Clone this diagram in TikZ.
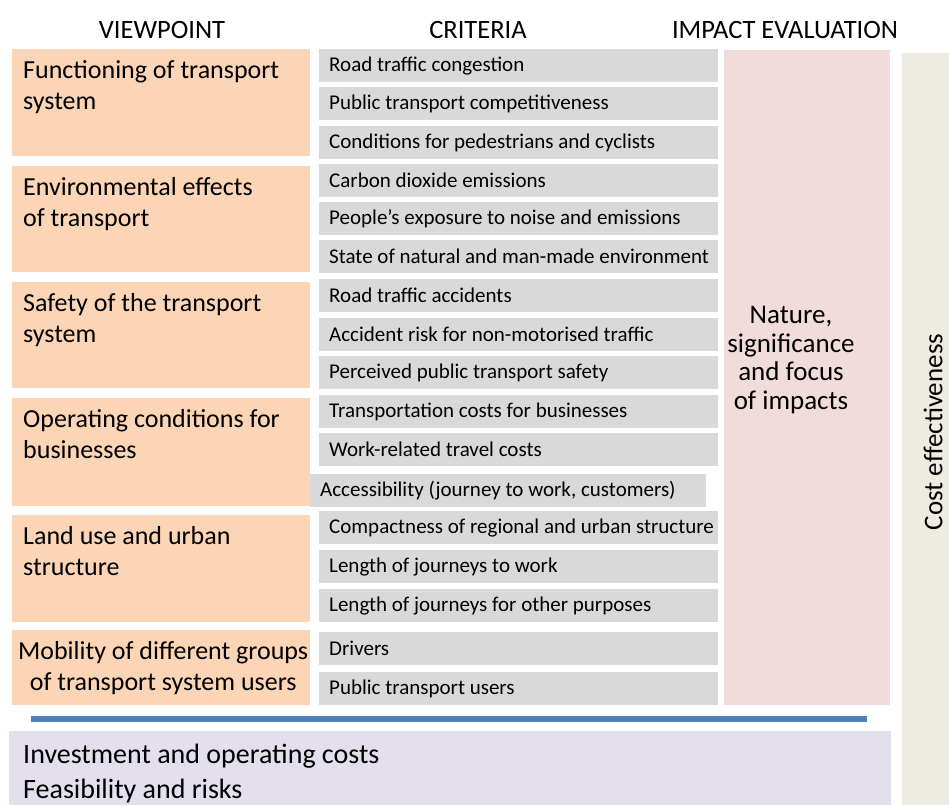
\documentclass[tikz,border=0pt]{standalone}
\usepackage{fontspec}
\setmainfont{Carlito}

\definecolor{viewfill}{HTML}{FBD5B5}
\definecolor{critfill}{HTML}{D9D9D9}
\definecolor{impactfill}{HTML}{F2DCDB}
\definecolor{costfill}{HTML}{EEECE1}
\definecolor{feasfill}{HTML}{E4DFEC}
\definecolor{barblue}{HTML}{4F81BD}

\begin{document}
\begin{tikzpicture}[x=1pt,y=-1pt,
		head/.style={font=\fontsize{26.5}{30}\selectfont},
		viewbox/.style={fill=viewfill,anchor=north west,minimum width=298pt,inner sep=0pt},
		viewtext/.style={anchor=north west,align=left,inner sep=0pt,font=\fontsize{26}{31}\selectfont},
		critbox/.style={fill=critfill,anchor=north west,minimum height=33pt,inner xsep=10pt,inner ysep=0pt,font=\fontsize{21}{24}\selectfont},
		bigtext/.style={font=\fontsize{27}{28.5}\selectfont}]
		\useasboundingbox (0,0) rectangle (949,805);

		% column headings
		\node[head] (hview) at (162,30) {VIEWPOINT};
		\node[head] (hcrit) at (478,30) {CRITERIA};
		\node[head] (himpact) at (785,30) {IMPACT EVALUATION};

		% viewpoints
		\node[viewbox,minimum height=107pt] (v1) at (12,49) {};
		\node[viewbox,minimum height=106pt] (v2) at (12,166) {};
		\node[viewbox,minimum height=106pt] (v3) at (12,282) {};
		\node[viewbox,minimum height=108pt] (v4) at (12,398) {};
		\node[viewbox,minimum height=107pt] (v5) at (12,515) {};
		\node[viewbox,minimum height=75pt] (v6) at (12,630) {};
		\node[viewtext,xshift=11pt,yshift=-11pt] (vt1) at (v1.north west) {Functioning of transport\\system};
		\node[viewtext,xshift=11pt,yshift=-11pt] (vt2) at (v2.north west) {Environmental effects\\of transport};
		\node[viewtext,xshift=11pt,yshift=-11pt] (vt3) at (v3.north west) {Safety of the transport\\system};
		\node[viewtext,xshift=11pt,yshift=-11pt] (vt4) at (v4.north west) {Operating conditions for\\businesses};
		\node[viewtext,xshift=11pt,yshift=-11pt] (vt5) at (v5.north west) {Land use and urban\\structure};
		\node[viewtext,anchor=center,align=center] (vt6) at ([xshift=2pt]v6.center) {Mobility of different groups\\of transport system users};

		% criteria
		\foreach \i/\y/\t in {1/49/Road traffic congestion,
				2/87/Public transport competitiveness,
				3/126/Conditions for pedestrians and cyclists,
				4/164/Carbon dioxide emissions,
				5/202/People’s exposure to noise and emissions,
				6/240/State of natural and man-made environment,
				7/279/Road traffic accidents,
				8/318/Accident risk for non-motorised traffic,
				9/356/Perceived public transport safety,
				10/395/Transportation costs for businesses,
				11/433/Work-related travel costs,
				13/511/Compactness of regional and urban structure,
				14/550/Length of journeys to work,
				15/589/Length of journeys for other purposes,
				16/632/Drivers,
				17/672/Public transport users}
			\node[critbox] (c\i) at (319,\y) {\makebox[379pt][l]{\t}};
		\node[critbox] (c12) at (310,474) {\makebox[376pt][l]{Accessibility (journey to work, customers)}};

		% impact evaluation
		\node[fill=impactfill,anchor=north west,minimum width=166pt,minimum height=655pt,inner sep=0pt] (impact) at (724,50) {};
		\node[bigtext,align=center] (impacttext) at (791,360) {Nature,\\significance\\and focus\\of impacts};

		% cost effectiveness
		\node[fill=costfill,anchor=north west,minimum width=47pt,minimum height=752pt,inner sep=0pt] (cost) at (902,53) {};
		\node[bigtext,rotate=90] (costtext) at (933,432) {Cost effectiveness};

		% divider
		\coordinate (barL) at (31,719);
		\coordinate (barR) at (867,719);
		\draw[barblue,line width=6pt] (barL) -- (barR);

		% costs and feasibility
		\node[fill=feasfill,anchor=north west,minimum width=882pt,minimum height=74pt,inner sep=0pt] (feas) at (9,731) {};
		\node[anchor=north west,align=left,inner sep=0pt,font=\fontsize{28}{35}\selectfont,xshift=14pt,yshift=-13pt] (feastext) at (feas.north west) {Investment and operating costs\\Feasibility and risks};
	\end{tikzpicture}
\end{document}
